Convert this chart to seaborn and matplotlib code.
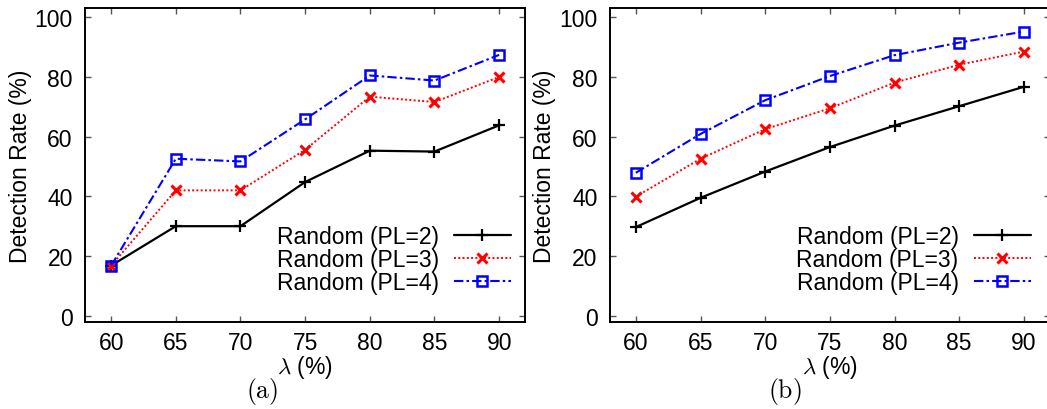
import matplotlib
matplotlib.use("Agg")
import matplotlib.pyplot as plt
import seaborn as sns

sns.set_style("ticks")
plt.rcParams["font.family"] = ["Liberation Sans", "DejaVu Sans"]
plt.rcParams["mathtext.fontset"] = "cm"
for key in ["text.color", "axes.labelcolor", "xtick.labelcolor", "ytick.labelcolor"]:
    plt.rcParams[key] = "black"

lam = [60, 65, 70, 75, 80, 85, 90]
series_labels = ["Random (PL=2)", "Random (PL=3)", "Random (PL=4)"]

# panel (a)
a_pl2 = [16.8, 30.0, 30.0, 44.8, 55.3, 55.0, 63.8]
a_pl3 = [16.8, 42.0, 42.0, 55.6, 73.4, 71.6, 80.0]
a_pl4 = [16.8, 52.6, 51.7, 65.8, 80.5, 78.8, 87.4]

# panel (b)
b_pl2 = [29.7, 39.5, 48.3, 56.5, 63.7, 70.2, 76.7]
b_pl3 = [39.9, 52.6, 62.5, 69.5, 78.1, 84.1, 88.5]
b_pl4 = [47.9, 60.9, 72.2, 80.3, 87.3, 91.5, 95.2]

yticks = [0, 20, 40, 60, 80, 100]

styles = [
    dict(color="black", linestyle="-", linewidth=1.6, marker="+", markersize=9,
         markeredgewidth=1.6, markerfacecolor="black"),
    dict(color="#ff0000", linestyle=(0, (1.0, 1.2)), linewidth=1.4, marker="x", markersize=7,
         markeredgewidth=2.2, markerfacecolor="#ff0000"),
    dict(color="#0000ff", linestyle=(0, (4.5, 1.5, 1.2, 1.5)), linewidth=1.5, marker="s",
         markersize=7, markeredgewidth=1.8, markerfacecolor="none"),
]

fig = plt.figure(figsize=(10.47, 4.10), dpi=100)
ax_a = fig.add_axes([85.3 / 1047, 87.3 / 410, 439.7 / 1047, 313.4 / 410])
ax_b = fig.add_axes([610.0 / 1047, 87.3 / 410, 439.7 / 1047, 313.4 / 410])

panels = [
    (ax_a, [a_pl2, a_pl3, a_pl4], 0.968, r"$\mathrm{(a)}$", 262),
    (ax_b, [b_pl2, b_pl3, b_pl4], 0.957, r"$\mathrm{(b)}$", 785),
]

for ax, values, leg_x, caption, cap_x in panels:
    for vals, lab, st in zip(values, series_labels, styles):
        sns.lineplot(x=lam, y=vals, ax=ax, label=lab)
        line = ax.lines[-1]
        line.set_color(st["color"])
        line.set_linestyle(st["linestyle"])
        line.set_linewidth(st["linewidth"])
        line.set_marker(st["marker"])
        line.set_markersize(st["markersize"])
        line.set_markeredgewidth(st["markeredgewidth"])
        line.set_markeredgecolor(st["color"])
        line.set_markerfacecolor(st["markerfacecolor"])
    ax.set_xlim(58, 92)
    ax.set_ylim(-2, 103)
    ax.set_xticks(lam)
    ax.set_yticks(yticks)
    ax.tick_params(direction="in", length=4, width=1.0, color="#555555",
                   top=True, right=True, labelsize=16.5, pad=9)
    ax.tick_params(axis="x", pad=7)
    for sp in ax.spines.values():
        sp.set_linewidth(1.4)
        sp.set_color("black")
    ax.set_xlabel(r"$\lambda$ (%)", fontsize=16.5, labelpad=-1)
    ax.set_ylabel("Detection Rate (%)", fontsize=16.5, labelpad=2)
    leg = ax.legend(loc="center right", bbox_to_anchor=(leg_x, 0.197), frameon=False,
                    markerfirst=False, fontsize=16.5, handlelength=2.5, handletextpad=0.65,
                    labelspacing=0.0, borderpad=0, borderaxespad=0)
    fig.text(cap_x / 1047, 1 - 392 / 410, caption, fontsize=18.5, ha="center", va="center")

fig.savefig("out.png", dpi=100)
